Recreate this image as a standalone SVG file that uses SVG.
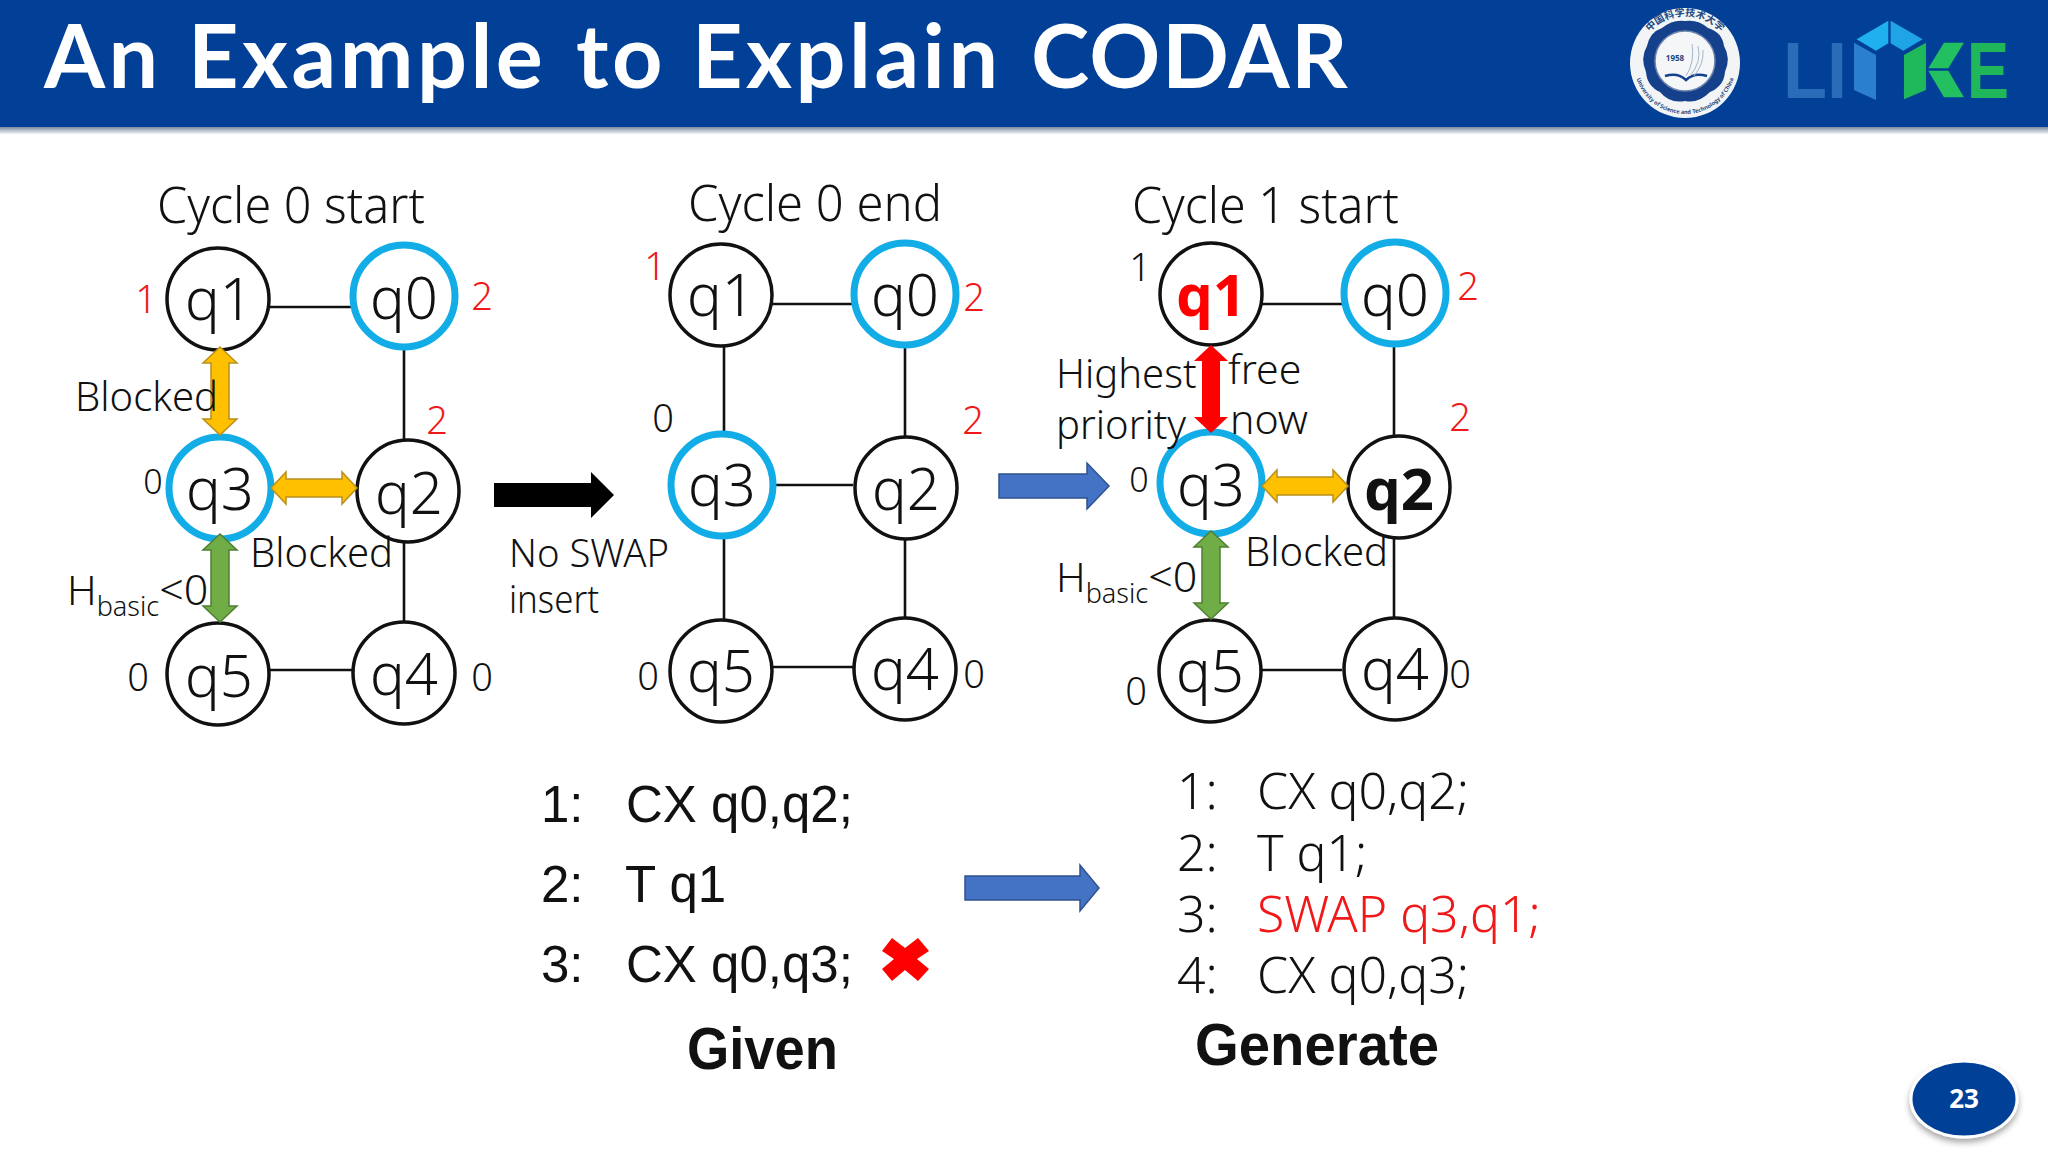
<svg xmlns="http://www.w3.org/2000/svg" width="2048" height="1152" viewBox="0 0 2048 1152">
<style>
text{font-family:"Noto Sans","Liberation Sans",sans-serif;font-weight:300;fill:#111}
.n{font-size:58px;text-anchor:middle}
.l{font-size:40px}
.c{font-size:49px}
.s{font-size:27px}
.r{fill:#f01818}
.num{font-size:38px;text-anchor:middle}
.code{font-family:"Liberation Sans",sans-serif;font-size:51px;font-weight:400;fill:#111}
.gen{font-size:50px}
.head{font-family:"Liberation Sans",sans-serif;font-size:59px;font-weight:700}
.k{fill:#fff;stroke:#111;stroke-width:3.5}
.b{fill:#fff;stroke:#12ace6;stroke-width:7}
.w{stroke:#111;stroke-width:2.6;fill:none}
.y{fill:#ffc000;stroke:#b8901c;stroke-width:1.5}
.g{fill:#70ad47;stroke:#507e32;stroke-width:1.5}
.red{fill:#ff0000}
.blue{fill:#4472c4;stroke:#2f528f;stroke-width:1.5}
.ring{font-size:7px;font-weight:700;fill:#24487f}
</style>
<defs>
<linearGradient id="bar" x1="0" y1="0" x2="0" y2="1"><stop offset="0" stop-color="#7c8aa2"/><stop offset="1" stop-color="#f4f5f7"/></linearGradient>
<filter id="sh" x="-20%" y="-20%" width="140%" height="150%"><feDropShadow dx="0" dy="4" stdDeviation="3" flood-color="#000" flood-opacity=".35"/></filter>
<path id="vh" d="M0-44L17-28H9V28H17L0 44L-17 28H-9V-28H-17Z"/>
<path id="hh" d="M-43 0L-28-16V-9H28V-16L43 0L28 16V9H-28V16Z"/>
<path id="arcT" d="M1638 63A47 47 0 0 1 1732 63"/>
<path id="arcB" d="M1634 63A51 51 0 0 0 1736 63"/>
</defs>
<rect width="2048" height="1152" fill="#fff"/>
<g id="header">
<rect width="2048" height="127" fill="#024097"/>
<rect y="127" width="2048" height="7" fill="url(#bar)"/>
<text y="88" font-size="88" style="font-family:Lato,sans-serif;font-weight:700;fill:#fff;letter-spacing:3.5px"><tspan x="44">An</tspan> <tspan x="188">Example</tspan> <tspan x="576">to</tspan> <tspan x="692">Explain</tspan> <tspan x="1031" style="letter-spacing:1.5px">CODAR</tspan></text>
</g>
<g id="seal">
<circle cx="1685" cy="63" r="55" fill="#f2f4f6"/>
<path d="M1685 21Q1698 19 1708 28Q1722 32 1724 46Q1731 58 1725 72Q1724 86 1710 92Q1698 104 1685 101Q1670 104 1660 92Q1647 86 1646 72Q1640 58 1647 46Q1650 32 1662 28Q1673 19 1685 21Z" fill="#14408c"/>
<circle cx="1685" cy="61" r="30" fill="#f4f6f8" stroke="#6d84ad" stroke-width="1.5"/>
<path d="M1665 76Q1678 72 1686 80Q1694 72 1707 76" fill="none" stroke="#14408c" stroke-width="2.5"/>
<path d="M1692 44Q1695 62 1686 76M1698 46Q1702 62 1690 76M1703 50Q1704 64 1694 76" fill="none" stroke="#a7b5cc" stroke-width="1"/>
<text x="1675" y="61" text-anchor="middle" font-size="8" style="font-weight:700;fill:#24487f">1958</text>
<text class="ring" style="font-family:'Noto Sans CJK SC',sans-serif;font-size:10px"><textPath href="#arcT" startOffset="50%" text-anchor="middle">中国科学技术大学</textPath></text>
<text class="ring" style="font-size:5.6px"><textPath href="#arcB" startOffset="50%" text-anchor="middle">University of Science and Technology of China</textPath></text>
</g>
<g id="logo">
<text x="1783" y="98" font-size="79" style="font-family:'Liberation Sans',sans-serif;font-weight:700;fill:#2a6cb8" textLength="64" lengthAdjust="spacingAndGlyphs">LI</text>
<text x="1967" y="98" font-size="79" style="font-family:'Liberation Sans',sans-serif;font-weight:700;fill:#20b75a" textLength="42" lengthAdjust="spacingAndGlyphs">E</text>
<g transform="translate(1560 0) scale(.3333)">
<path d="M890 118L985 62V130L948 152Z" fill="#1fb0ef"/>
<path d="M992 62L1088 118L1030 152L992 130Z" fill="#1fa4e8"/>
<path d="M882 128L948 165V300L882 270Z" fill="#2a80cf"/>
<path d="M1032 165L1098 128V270L1032 298Z" fill="#1fb95c"/>
<path d="M1105 205L1152 128H1212L1165 205Z" fill="#22c060"/>
<path d="M1105 212H1165L1212 292H1152Z" fill="#22c060"/>
</g>
</g>
<g id="connectors">
<path class="w" d="M270 307H352M404 345V440M270 670H352M404 540V625"/>
<path class="w" d="M772 304H853M724 345V435M905 345V436M773 485H853M724 535V620M905 538V618M772 667H853"/>
<path class="w" d="M1262 304H1342M1394 345V436M1262 670H1342M1394 537V618"/>
</g>
<g id="p1-q1"><circle class="k" cx="218" cy="299" r="51"/><text class="n" x="219" y="320">q1</text></g>
<g id="p1-q0"><circle class="b" cx="404" cy="296" r="51"/><text class="n" x="404" y="319">q0</text></g>
<g id="p1-q3"><circle class="b" cx="220" cy="488" r="51"/><text class="n" x="220" y="510">q3</text></g>
<g id="p1-q2"><circle class="k" cx="408" cy="491" r="51"/><text class="n" x="409" y="514">q2</text></g>
<g id="p1-q5"><circle class="k" cx="218" cy="674" r="51"/><text class="n" x="219" y="697">q5</text></g>
<g id="p1-q4"><circle class="k" cx="404" cy="673" r="51"/><text class="n" x="404" y="695">q4</text></g>
<g id="p2-q1"><circle class="k" cx="721" cy="295" r="51"/><text class="n" x="721" y="316">q1</text></g>
<g id="p2-q0"><circle class="b" cx="905" cy="294" r="51"/><text class="n" x="905" y="316">q0</text></g>
<g id="p2-q3"><circle class="b" cx="722" cy="485" r="51"/><text class="n" x="722" y="506">q3</text></g>
<g id="p2-q2"><circle class="k" cx="906" cy="488" r="51"/><text class="n" x="906" y="510">q2</text></g>
<g id="p2-q5"><circle class="k" cx="721" cy="671" r="51"/><text class="n" x="721" y="692">q5</text></g>
<g id="p2-q4"><circle class="k" cx="905" cy="669" r="51"/><text class="n" x="905" y="690">q4</text></g>
<g id="p3-q1"><circle class="k" cx="1211" cy="294" r="51"/><text class="n red" x="1211" y="316" style="font-weight:700">q1</text></g>
<g id="p3-q0"><circle class="b" cx="1395" cy="293" r="51"/><text class="n" x="1395" y="316">q0</text></g>
<g id="p3-q3"><circle class="b" cx="1211" cy="483" r="51"/><text class="n" x="1211" y="506">q3</text></g>
<g id="p3-q2"><circle class="k" cx="1399" cy="487" r="51"/><text class="n" x="1399" y="510" style="font-weight:700">q2</text></g>
<g id="p3-q5"><circle class="k" cx="1210" cy="671" r="51"/><text class="n" x="1210" y="692">q5</text></g>
<g id="p3-q4"><circle class="k" cx="1395" cy="669" r="51"/><text class="n" x="1395" y="690">q4</text></g>
<g id="arrows">
<use href="#vh" class="y" transform="translate(220 391)"/>
<use href="#hh" class="y" transform="translate(314 488)"/>
<use href="#vh" class="g" transform="translate(220 578)"/>
<use href="#vh" class="red" transform="translate(1211 389)"/>
<use href="#hh" class="y" transform="translate(1305 486)"/>
<use href="#vh" class="g" transform="translate(1211 575)"/>
<path fill="#000" d="M494 483H591V472L614 495L591 518V507H494Z"/>
<path class="blue" d="M999 474H1087V463L1109 486L1087 509V498H999Z"/>
<path class="blue" d="M965 876H1080V865L1099 888L1080 911V900H965Z"/>
<path class="red" d="M882 951L892 938L905 948L918 938L929 951L917 959L929 969L918 981L905 970L892 981L882 969L894 959Z"/>
</g>
<g id="labels">
<text class="c" x="157" y="223" textLength="268" lengthAdjust="spacingAndGlyphs">Cycle 0 start</text>
<text class="c" x="688" y="221" textLength="254" lengthAdjust="spacingAndGlyphs">Cycle 0 end</text>
<text class="c" x="1132" y="223" textLength="267" lengthAdjust="spacingAndGlyphs">Cycle 1 start</text>
<text class="num r" x="146" y="313">1</text><text class="num r" x="482" y="310">2</text><text class="num r" x="437" y="434">2</text>
<text class="num" x="153" y="494" style="font-size:34px">0</text><text class="num" x="138" y="691">0</text><text class="num" x="482" y="691">0</text>
<text class="num r" x="655" y="280">1</text><text class="num r" x="974" y="311">2</text><text class="num r" x="973" y="434">2</text>
<text class="num" x="663" y="432">0</text><text class="num" x="648" y="690">0</text><text class="num" x="974" y="688">0</text>
<text class="num" x="1140" y="281">1</text><text class="num r" x="1468" y="300">2</text><text class="num r" x="1460" y="431">2</text>
<text class="num" x="1139" y="492" style="font-size:34px">0</text><text class="num" x="1136" y="705">0</text><text class="num" x="1460" y="688">0</text>
<text class="l" x="75" y="411">Blocked</text>
<text class="l" x="250" y="567">Blocked</text>
<text class="l" x="1245" y="566">Blocked</text>
<text class="l" x="67" y="605" style="font-size:41px">H<tspan class="s" dy="11">basic</tspan><tspan dy="-11" style="font-size:43px">&lt;0</tspan></text>
<text class="l" x="1056" y="592" style="font-size:41px">H<tspan class="s" dy="11">basic</tspan><tspan dy="-11" style="font-size:43px">&lt;0</tspan></text>
<text class="l" x="509" y="567" style="font-size:38px" textLength="160" lengthAdjust="spacingAndGlyphs">No SWAP</text>
<text class="l" x="509" y="613" style="font-size:38px" textLength="90" lengthAdjust="spacingAndGlyphs">insert</text>
<text class="l" x="1056" y="388">Highest</text>
<text class="l" x="1056" y="439">priority</text>
<text class="l" x="1228" y="384" style="font-size:41px">free</text>
<text class="l" x="1230" y="434" style="font-size:41px">now</text>
<g class="codes">
<text class="code" x="541" y="822">1:</text><text class="code" x="626" y="822">CX q0,q2;</text>
<text class="code" x="541" y="902">2:</text><text class="code" x="625" y="902">T q1</text>
<text class="code" x="541" y="982">3:</text><text class="code" x="626" y="982">CX q0,q3;</text>
<text class="head" x="687" y="1069" textLength="151" lengthAdjust="spacingAndGlyphs">Given</text>
<text class="gen" x="1177" y="809">1:</text><text class="gen" x="1257" y="809">CX q0,q2;</text>
<text class="gen" x="1177" y="871">2:</text><text class="gen" x="1257" y="871">T q1;</text>
<text class="gen" x="1177" y="932">3:</text><text class="gen r" x="1257" y="932">SWAP q3,q1;</text>
<text class="gen" x="1177" y="993">4:</text><text class="gen" x="1257" y="993">CX q0,q3;</text>
<text class="head" x="1195" y="1065" textLength="244" lengthAdjust="spacingAndGlyphs">Generate</text>
</g>
</g>
<g id="page">
<ellipse cx="1964" cy="1099" rx="53" ry="38" fill="#024097" stroke="#fff" stroke-width="3" filter="url(#sh)"/>
<text x="1964" y="1108" text-anchor="middle" font-size="26" style="font-family:'Open Sans',sans-serif;font-weight:700;fill:#fff">23</text>
</g>
</svg>
